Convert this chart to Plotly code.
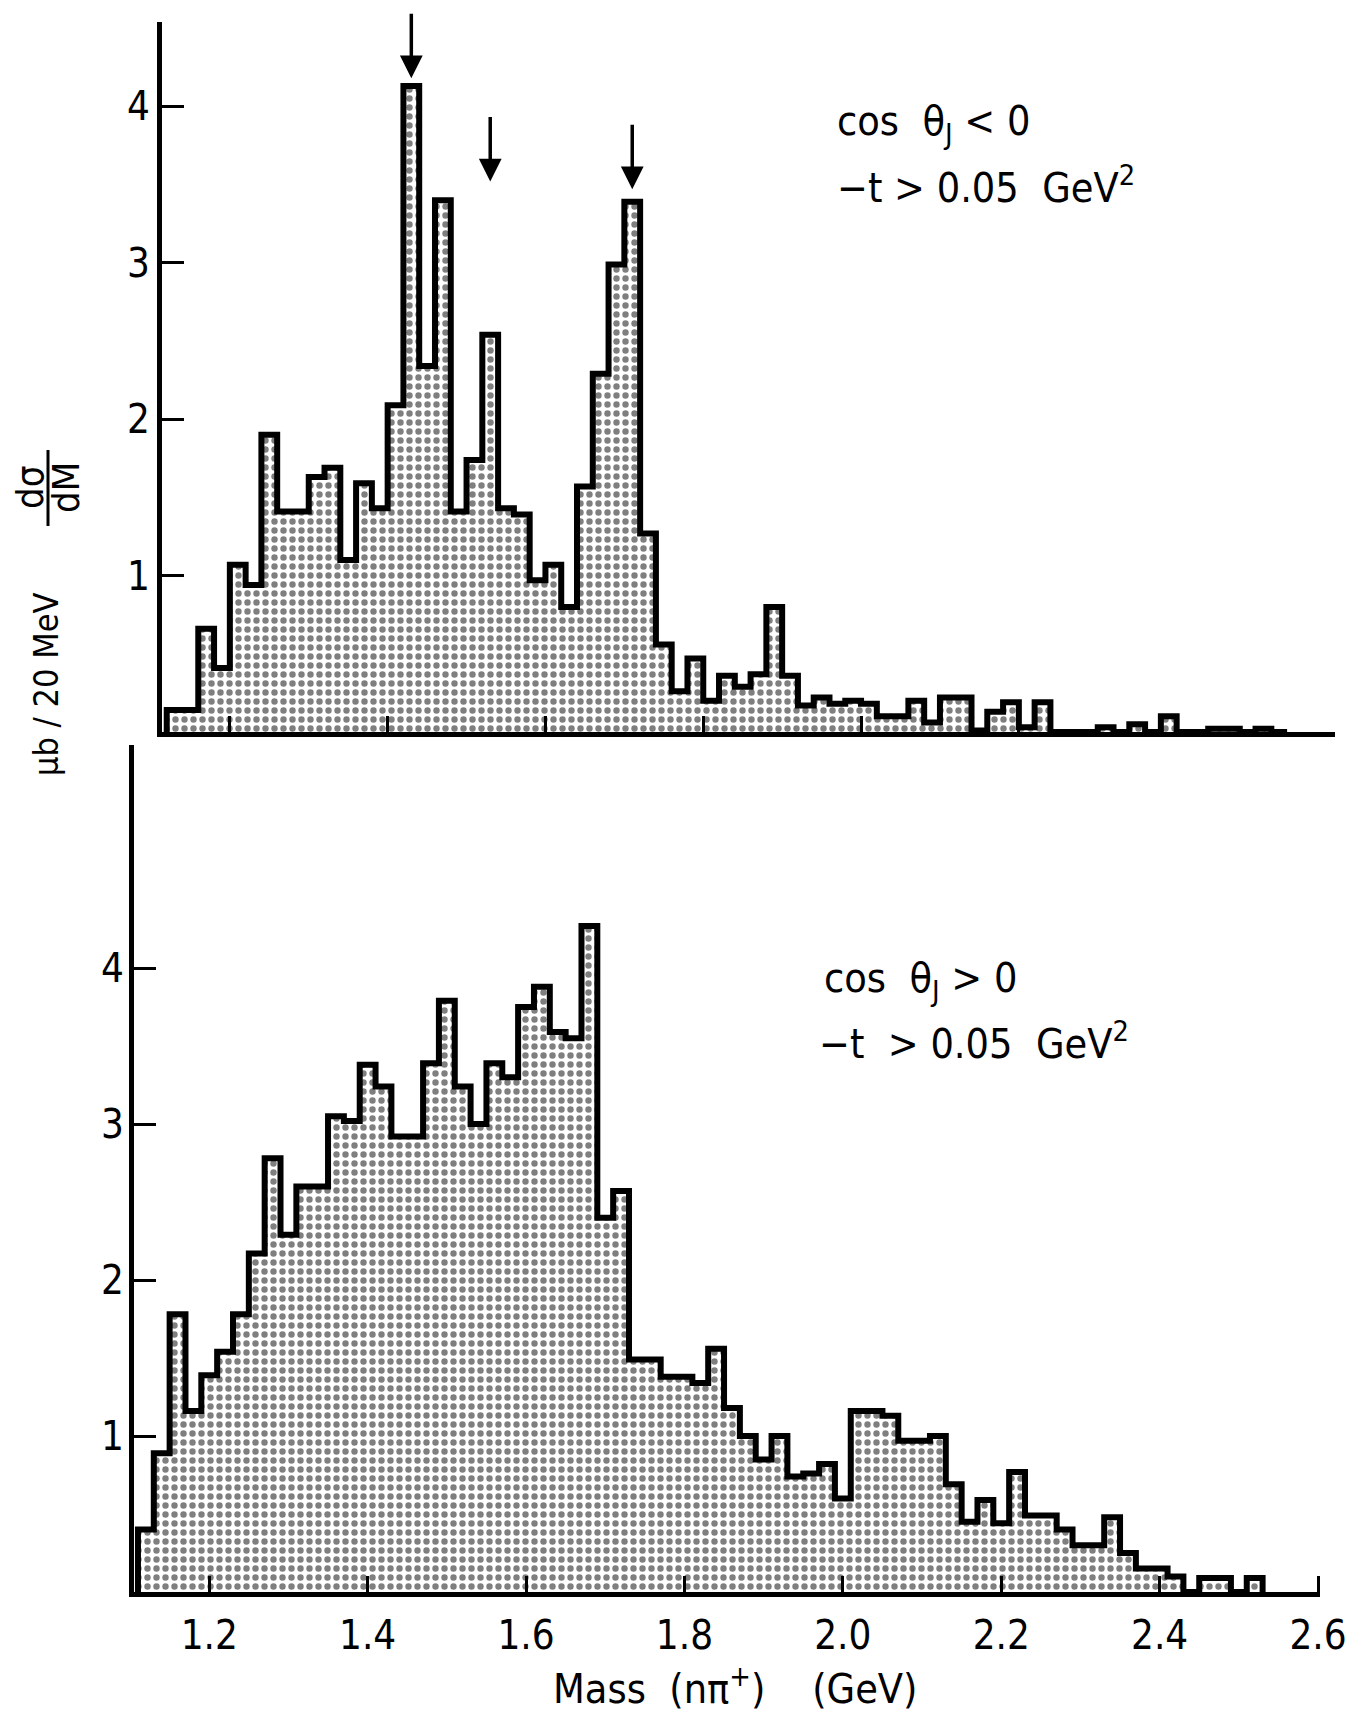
import plotly.graph_objects as go

# ---------------- data ----------------
BIN_WIDTH = 0.02  # GeV  (20 MeV bins)

# upper panel: cos(theta_J) < 0 , -t > 0.05 GeV^2
top_start = 1.12
top_values = [
    0.14, 0.14, 0.66, 0.41, 1.07, 0.94, 1.90, 1.41, 1.41, 1.63,
    1.69, 1.10, 1.59, 1.43, 2.09, 4.13, 2.34, 3.40, 1.41, 1.74,
    2.54, 1.43, 1.39, 0.97, 1.07, 0.80, 1.57, 2.29, 2.99, 3.39,
    1.27, 0.56, 0.26, 0.47, 0.20, 0.36, 0.29, 0.37, 0.80, 0.36,
    0.17, 0.22, 0.18, 0.20, 0.18, 0.10, 0.10, 0.20, 0.06, 0.22,
    0.22, 0.01, 0.13, 0.19, 0.03, 0.19, 0.00, 0.00, 0.00, 0.03,
    0.00, 0.05, 0.00, 0.10, 0.00, 0.00, 0.02, 0.02, 0.00, 0.02,
    0.00,
]

# lower panel: cos(theta_J) > 0 , -t > 0.05 GeV^2
bottom_start = 1.11
bottom_values = [
    0.40, 0.89, 1.78, 1.16, 1.39, 1.54, 1.78, 2.17, 2.78, 2.29,
    2.60, 2.60, 3.05, 3.02, 3.38, 3.24, 2.92, 2.92, 3.39, 3.79,
    3.24, 3.00, 3.39, 3.30, 3.75, 3.88, 3.59, 3.55, 4.27, 2.40,
    2.57, 1.49, 1.49, 1.38, 1.38, 1.34, 1.56, 1.18, 1.00, 0.85,
    1.00, 0.74, 0.76, 0.82, 0.60, 1.16, 1.16, 1.13, 0.97, 0.97,
    1.00, 0.69, 0.45, 0.59, 0.44, 0.77, 0.49, 0.49, 0.40, 0.30,
    0.30, 0.48, 0.25, 0.15, 0.15, 0.10, 0.00, 0.09, 0.09, 0.00,
    0.09,
]

x_tick_vals = [1.2, 1.4, 1.6, 1.8, 2.0, 2.2, 2.4, 2.6]
x_tick_text = ["1.2", "1.4", "1.6", "1.8", "2.0", "2.2", "2.4", "2.6"]
y_tick_vals = [1, 2, 3, 4]
y_tick_text = ["1", "2", "3", "4"]

# resonance arrows in the upper panel (mass, arrow tip height)
arrow_masses = [1.43, 1.53, 1.71]
arrow_tips = [4.18, 3.52, 3.47]

# ---------------- helpers ----------------
W, H = 1359, 1719
FONT = "DejaVu Sans Condensed, DejaVu Sans, sans-serif"


def step_xy(start, values):
    edges = [round(start + i * BIN_WIDTH, 6) for i in range(len(values) + 1)]
    xs = [edges[0]] + edges[:-1] + [edges[-1], edges[-1]]
    ys = [0.0] + list(values) + [values[-1], 0.0]
    return xs, ys


def px_x(p):
    return min(1.0, max(0.0, p / W))


def px_y(p):
    return 1 - p / H


dots = dict(shape=".", fgcolor="black", bgcolor="white", size=9, solidity=0.4)

fig = go.Figure()
for (start, vals, xa, ya) in [(top_start, top_values, "x", "y"),
                              (bottom_start, bottom_values, "x2", "y2")]:
    xs, ys = step_xy(start, vals)
    fig.add_trace(go.Scatter(
        x=xs, y=ys, xaxis=xa, yaxis=ya, mode="lines", line_shape="hv",
        line=dict(color="black", width=6),
        fill="tozeroy", fillcolor="white", fillpattern=dots,
        hoverinfo="skip", showlegend=False,
    ))

axis_common = dict(showline=True, linecolor="black", linewidth=5, showgrid=False,
                   zeroline=False, ticks="inside", tickcolor="black", automargin=False,
                   tickfont=dict(family=FONT, size=40, color="black"))

x_top_range = [1.114, 2.601]
x_bot_range = [1.105, 2.602]
fig.update_layout(
    width=W, height=H, margin=dict(l=0, r=0, t=0, b=0, autoexpand=False), autosize=False,
    paper_bgcolor="white", plot_bgcolor="white",
    xaxis=dict(axis_common, domain=[px_x(162), px_x(162 + 789 * (x_top_range[1] - x_top_range[0]))],
               range=x_top_range, anchor="y", tickvals=x_tick_vals, ticktext=x_tick_text,
               showticklabels=False, ticklen=16, tickwidth=3),
    yaxis=dict(axis_common, domain=[px_y(732), px_y(22)], range=[0, 4.54], anchor="x",
               tickvals=y_tick_vals, ticktext=y_tick_text, ticklen=22, tickwidth=3,
               ticklabelstandoff=-1),
    xaxis2=dict(axis_common, domain=[px_x(134), px_x(134 + 792 * (x_bot_range[1] - x_bot_range[0]))],
                range=x_bot_range, anchor="y2", tickvals=x_tick_vals, ticktext=x_tick_text,
                ticklen=16, tickwidth=3, ticklabelstandoff=4),
    yaxis2=dict(axis_common, domain=[px_y(1592), px_y(745)], range=[0, 5.43], anchor="x2",
                tickvals=y_tick_vals, ticktext=y_tick_text, ticklen=22, tickwidth=3,
                ticklabelstandoff=-3),
)

txt = dict(family=FONT, size=41, color="black")
ann = []
# panel captions
ann.append(dict(xref="x", yref="y", x=1.967, y=3.89, xanchor="left", yanchor="middle",
                text="cos\u00a0\u00a0θ<sub>J</sub>\u00a0<\u00a00", showarrow=False, font=txt))
ann.append(dict(xref="x", yref="y", x=1.967, y=3.50, xanchor="left", yanchor="middle",
                text="−t\u00a0>\u00a00.05\u00a0\u00a0GeV<sup>2</sup>", showarrow=False, font=txt))
ann.append(dict(xref="x2", yref="y2", x=1.974, y=3.92, xanchor="left", yanchor="middle",
                text="cos\u00a0\u00a0θ<sub>J</sub>\u00a0>\u00a00", showarrow=False, font=txt))
ann.append(dict(xref="x2", yref="y2", x=1.967, y=3.53, xanchor="left", yanchor="middle",
                text="−t\u00a0\u00a0>\u00a00.05\u00a0\u00a0GeV<sup>2</sup>", showarrow=False, font=txt))
# arrows
for m, tip in zip(arrow_masses, arrow_tips):
    ann.append(dict(xref="x", yref="y", x=m, y=tip, ax=0, ay=-66, text="",
                    showarrow=True, arrowhead=2, arrowsize=1.3, arrowwidth=3.5,
                    arrowcolor="black"))
# y-axis title
ylab_font = dict(family=FONT, size=34, color="black")
ann.append(dict(xref="paper", yref="paper", x=px_x(46), y=px_y(685), textangle=-90,
                xanchor="center", yanchor="middle",
                text="μb\u00a0/\u00a020\u00a0MeV", showarrow=False, font=ylab_font))
frac_font = dict(family=FONT, size=38, color="black")
ann.append(dict(xref="paper", yref="paper", x=px_x(30), y=px_y(488), textangle=-90,
                xanchor="center", yanchor="middle",
                text="dσ", showarrow=False, font=frac_font))
ann.append(dict(xref="paper", yref="paper", x=px_x(66), y=px_y(488), textangle=-90,
                xanchor="center", yanchor="middle",
                text="dM", showarrow=False, font=frac_font))
# x-axis title
ann.append(dict(xref="paper", yref="paper", x=px_x(735), y=px_y(1686),
                xanchor="center", yanchor="middle",
                text="Mass\u00a0\u00a0(nπ<sup>+</sup>)\u00a0\u00a0\u00a0\u00a0(GeV)", showarrow=False,
                font=dict(family=FONT, size=41, color="black")))
fig.update_layout(annotations=ann)

# fraction bar of dσ/dM
fig.add_shape(type="line", xref="paper", yref="paper", x0=px_x(48), x1=px_x(48),
              y0=px_y(526), y1=px_y(450), line=dict(color="black", width=3))

fig.write_html("out.html")
